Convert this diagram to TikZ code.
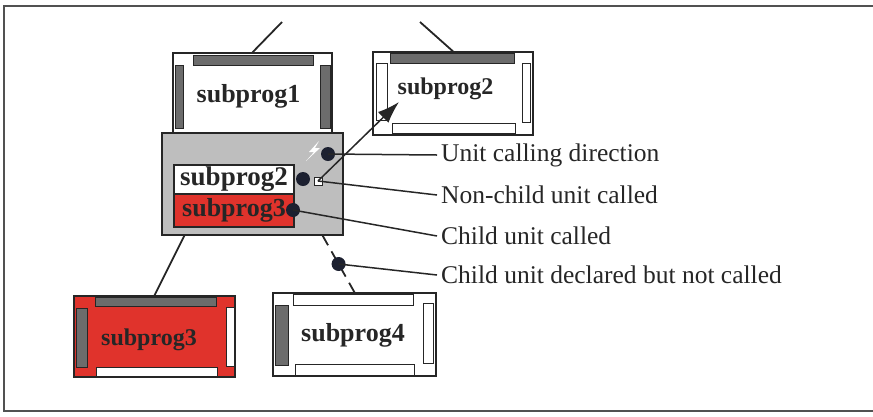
\documentclass[tikz,border=0pt]{standalone}
\usepackage{fontspec}
\setmainfont{Liberation Serif}
\usetikzlibrary{arrows.meta,calc}
\definecolor{unitgray}{HTML}{BEBEBE}
\definecolor{bardark}{HTML}{6C6C6C}
\definecolor{unitred}{HTML}{E0332C}
\definecolor{dotink}{HTML}{1C2030}
\definecolor{lineink}{HTML}{262626}
\tikzset{
  modbox/.style={draw=lineink, line width=1.3pt, inner sep=0pt},
  modlbl/.style={font=\fontsize{26}{28}\selectfont\bfseries, text=lineink, inner sep=0pt},
  bardk/.style={draw=lineink, line width=0.8pt, fill=bardark},
  barwt/.style={draw=lineink, line width=0.8pt, fill=white},
  dot/.style={circle, fill=dotink, minimum size=14pt, inner sep=0pt},
  legtxt/.style={font=\fontsize{25.5}{27}\selectfont, text=lineink, anchor=west, inner sep=4pt},
  tree/.style={draw=lineink, line width=1.8pt},
  leg/.style={draw=lineink, line width=1.5pt},
  arr/.style={-{Latex[length=22pt, width=15pt]}, line width=1.5pt, color=lineink},
}
\begin{document}
\begin{tikzpicture}[x=1pt, y=-1pt]
  \useasboundingbox (0,0) rectangle (873,416);
  \draw[lineink!80, line width=1.6pt] (873,6) -- (4,6) -- (4,411) -- (873,411);

  % parents
  \node[modbox, fill=white, minimum width=159pt, minimum height=82pt] (sp1) at (252.5,94) {};
  \draw[bardk] (193,55) rectangle (313,65);
  \draw[bardk] (175,65) rectangle (183,128);
  \draw[bardk] (320,65) rectangle (330,128);
  \node[modlbl] (sp1lbl) at (248.5,96) {subprog1};

  \node[modbox, fill=white, minimum width=160pt, minimum height=83pt] (sp2) at (453,93.5) {};
  \draw[bardk] (390,53) rectangle (514,63);
  \draw[barwt] (376,63) rectangle (387,120);
  \draw[barwt] (522,63) rectangle (530,122);
  \draw[barwt] (392,123) rectangle (515,133);
  \node[modlbl, font=\fontsize{24}{26}\selectfont\bfseries] (sp2lbl) at (445.5,88.5) {subprog2};

  \coordinate (top1) at (282,22);
  \coordinate (top2) at (420,22);
  \draw[tree] (top1) -- (sp1.north);
  \draw[tree] (top2) -- (sp2.north);

  % the unit itself
  \node[modbox, fill=unitgray, minimum width=181pt, minimum height=102pt] (unit) at (252.5,184) {};
  \node[modbox, fill=white, minimum width=120pt, minimum height=29pt,
        font=\fontsize{27}{29}\selectfont\bfseries, text=lineink] (in2) at (234,179.5) {subprog2};
  \node[modbox, fill=unitred, minimum width=120pt, minimum height=33pt,
        font=\fontsize{26}{28}\selectfont\bfseries, text=lineink] (in3) at (234,210.5) {subprog3};
  \fill[white] (319,141) -- (309,152) -- (314,152) -- (306,161) -- (320,148) -- (315,148) -- cycle;

  % children
  \node[modbox, fill=unitred, minimum width=161pt, minimum height=81pt] (sp3) at (154.5,336.5) {};
  \draw[bardk] (95,297) rectangle (216,306);
  \draw[bardk] (76,308) rectangle (87,367);
  \draw[barwt] (226,307) rectangle (234,366);
  \draw[barwt] (96,367) rectangle (217,376);
  \node[modlbl, font=\fontsize{24}{26}\selectfont\bfseries] (sp3lbl) at (149,339.5) {subprog3};

  \node[modbox, fill=white, minimum width=163pt, minimum height=83pt] (sp4) at (354.5,334.5) {};
  \draw[barwt] (293,294) rectangle (413,305);
  \draw[bardk] (275,305) rectangle (288,365);
  \draw[barwt] (423,303) rectangle (433,363);
  \draw[barwt] (295,364) rectangle (414,375);
  \node[modlbl] (sp4lbl) at (353,335) {subprog4};

  \draw[tree] ([xshift=23pt]unit.south west) -- (sp3.north);
  \draw[tree, dash pattern=on 11pt off 7pt] ([xshift=-21pt]unit.south east) -- (sp4.north)
    node[dot, midway] (d4) {};

  % legend
  \node[dot] (d1) at (328,154) {};
  \node[dot] (d2) at (303,179) {};
  \node[draw=lineink, line width=0.9pt, fill=white, minimum size=8pt, inner sep=0pt] (sq) at (318,181) {};
  \node[dot] (d3) at (293,210) {};
  \coordinate (tip) at (399,102);
  \draw[arr] (sq.center) -- (tip);

  \node[legtxt] (l1) at (437,155) {Unit calling direction};
  \node[legtxt] (l2) at (437,195) {Non-child unit called};
  \node[legtxt] (l3) at (437,236) {Child unit called};
  \node[legtxt] (l4) at (437,275) {Child unit declared but not called};
  \draw[leg] (d1.center) -- (l1.west);
  \draw[leg] (sq.center) -- (l2.west);
  \draw[leg] (d3.center) -- (l3.west);
  \draw[leg] (d4.center) -- (l4.west);
\end{tikzpicture}
\end{document}
